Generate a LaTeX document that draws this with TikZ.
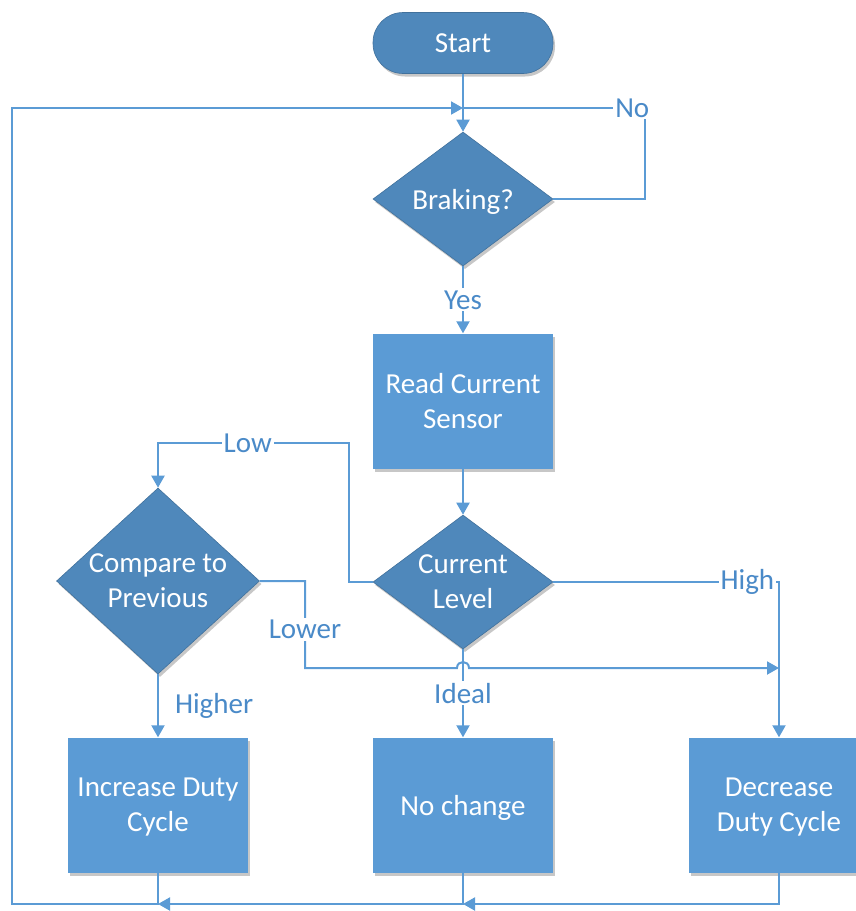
\documentclass[tikz,border=0pt]{standalone}
\usepackage{fontspec}
\setmainfont{Carlito}
\usepackage{xcolor}
\usetikzlibrary{shapes.geometric, arrows.meta, shadows}

\definecolor{boxblue}{HTML}{5B9BD5}
\definecolor{dkblue}{HTML}{4F88BB}
\definecolor{dkedge}{HTML}{41719C}
\definecolor{lineblue}{HTML}{5B9BD5}
\definecolor{lbltext}{HTML}{4A8AC8}

\tikzset{
  every node/.style={font=\fontsize{29}{35}\selectfont},
  shade/.style={drop shadow={shadow xshift=2pt, shadow yshift=-3pt, fill=black, opacity=0.22}},
  process/.style={rectangle, fill=boxblue, text=white, align=center, minimum width=180pt, minimum height=135pt, inner sep=0pt, text depth=0pt, shade},
  decision/.style={diamond, fill=dkblue, draw=dkedge, line width=0.6pt, inner sep=0pt, shade},
  terminal/.style={rectangle, rounded corners=30pt, fill=dkblue, draw=dkedge, line width=0.6pt, text=white, minimum width=180pt, minimum height=61pt, shade},
  dtext/.style={text=white, align=center, text depth=0pt},
  line/.style={draw=lineblue, line width=2pt},
  arr/.style={line, -{Triangle[width=13pt,length=12pt]}},
  lbl/.style={fill=white, text=lbltext, inner sep=2pt}
}

\begin{document}
\begin{tikzpicture}[x=1pt, y=-1pt]
\useasboundingbox (0,0) rectangle (856,911);

\node[terminal] (start) at (463,43) {Start};
\node[decision, minimum width=180pt, minimum height=134pt, label={[dtext]center:Braking?}] (braking) at (463,199) {};
\node[process] (read) at (463,401) {Read Current\\Sensor};
\node[decision, minimum width=180pt, minimum height=134pt, label={[dtext]center:{Current\\Level}}] (level) at (463,582) {};
\node[decision, minimum width=203pt, minimum height=186pt, label={[dtext]center:{Compare to\\Previous}}] (compare) at (158,581) {};

\node[process] (incr) at (158,805) {Increase Duty\\Cycle};
\node[process] (nochange) at (463,805) {No change};
\node[process] (decr) at (779,805) {Decrease\\Duty Cycle};

\coordinate (top) at (463,108);
\coordinate (noc) at (645,108);
\coordinate (lowr) at (349,443);
\coordinate (lowl) at (158,443);
\coordinate (lowerb) at (305,668);
\coordinate (hopl) at (457,668);
\coordinate (hopr) at (469,668);
\coordinate (hjoin) at (779,668);
\coordinate (highc) at (779,582);
\coordinate (bl) at (12,904);

\draw[arr] (start) -- (braking);
\draw[line] (braking.east) -| (noc) -- node[lbl, pos=0.07]{No} (top);
\draw[arr] (braking) -- node[lbl]{Yes} (read);
\draw[arr] (read) -- (level);

\draw[arr] (level.west) -| (lowr) -- node[lbl, pos=0.53]{Low} (lowl) -- (compare.north);
\draw[arr] (level.east) -- node[lbl, pos=0.86]{High} (highc) -- (decr.north);
\draw[arr] (level.south) -- node[lbl]{Ideal} (nochange.north);
\draw[arr] (compare.south) -- node[lbl, right=14pt]{Higher} (incr.north);
\draw[arr] (compare.east) -| node[lbl, pos=0.78]{Lower} (lowerb) -- (hopl)
  .. controls +(0,-8) and +(0,-8) .. (hopr) -- (hjoin);

\draw[arr] (decr) |- (nochange |- bl);
\draw[arr] (nochange) |- (incr |- bl);
\draw[arr] (incr) |- (bl) |- (top);

\end{tikzpicture}
\end{document}
